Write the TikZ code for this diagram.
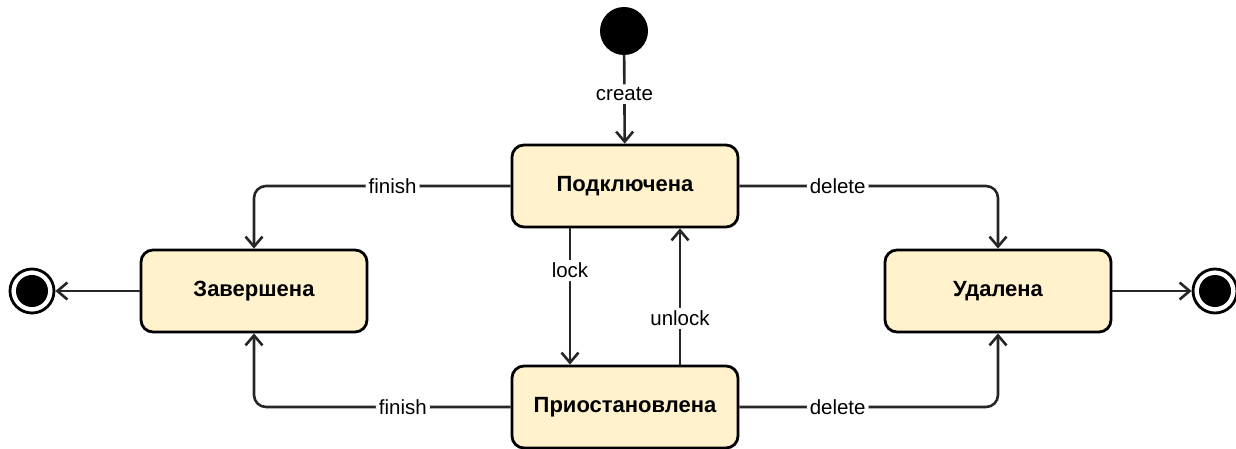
\documentclass[tikz,border=0pt]{standalone}
\usepackage{fontspec}
\setmainfont{Liberation Sans}
\usetikzlibrary{arrows.meta}
\begin{document}
\begin{tikzpicture}[x=1pt, y=-1pt,
    state/.style={draw=black, line width=2.8pt, fill=statefill,
      rounded corners=12pt, minimum width=226pt, minimum height=82pt,
      font=\fontsize{22}{26}\selectfont\bfseries},
    flow/.style={draw=black!85, line width=2.6pt, rounded corners=12pt,
      -{Straight Barb[length=10pt, width=17pt, line width=2.6pt]}},
    lbl/.style={fill=white, inner sep=3pt, text=black, font=\fontsize{20.5}{24}\selectfont},
    initst/.style={circle, fill=black, minimum size=48pt, inner sep=0pt},
    finalst/.style={circle, draw=black, line width=2.8pt, fill=white, minimum size=44pt, inner sep=0pt,
      path picture={\fill[black] (path picture bounding box.center) circle (16pt);}}]
  \definecolor{statefill}{HTML}{FFF2CC}
  \useasboundingbox (0,0) rectangle (1236,449);

  % Start and end points
  \node[initst] (init) at (624,31) {};
  \node[finalst] (endl) at (32,291) {};
  \node[finalst] (endr) at (1215,291) {};

  % States
  \node[state] (conn) at (625,186) {Подключена};
  \node[state] (susp) at (625,407) {Приостановлена};
  \node[state] (done) at (254,291) {Завершена};
  \node[state] (del) at (998,291) {Удалена};

  % Transitions
  \draw[flow] (init) -- node[lbl, pos=0.44] {create} (conn);
  \draw[flow] ([xshift=-55pt]conn.south) -- node[lbl, pos=0.31] {lock} ([xshift=-55pt]susp.north);
  \draw[flow] ([xshift=55pt]susp.north) -- node[lbl, pos=0.34] {unlock} ([xshift=55pt]conn.south);
  \draw[flow] (conn.west) -| node[lbl, pos=0.23] {finish} (done.north);
  \draw[flow] (susp.west) -| node[lbl, pos=0.21] {finish} (done.south);
  \draw[flow] (conn.east) -| node[lbl, pos=0.19] {delete} (del.north);
  \draw[flow] (susp.east) -| node[lbl, pos=0.19] {delete} (del.south);
  \draw[flow] (done) -- (endl);
  \draw[flow] (del) -- (endr);
\end{tikzpicture}
\end{document}
